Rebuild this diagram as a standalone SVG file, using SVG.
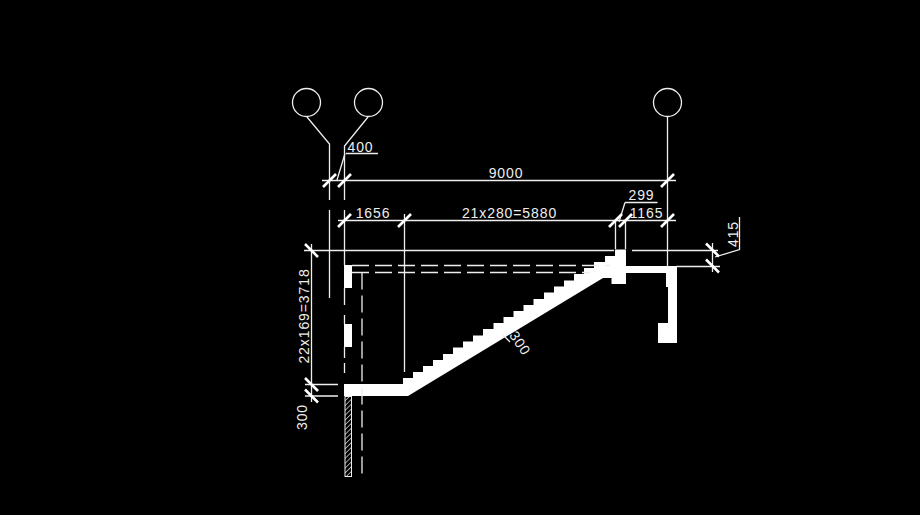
<svg xmlns="http://www.w3.org/2000/svg" width="920" height="515" viewBox="0 0 920 515">
<style>
.l{stroke:#eee;stroke-width:1.3;fill:none}
.d{stroke:#eee;stroke-width:1.3;fill:none;stroke-dasharray:17 6}
.t{stroke:#fff;stroke-width:2.6;fill:none}
.s{fill:#fff;stroke:none}
text{font-family:"Liberation Sans",Arial,sans-serif;font-size:14px;fill:#eee;letter-spacing:.9px;text-anchor:middle}
</style>
<defs>
<pattern id="h" width="3.4" height="3.4" patternUnits="userSpaceOnUse" patternTransform="rotate(45)">
<line x1="0" y1="0" x2="0" y2="3.4" stroke="#ddd" stroke-width="1.4"/>
</pattern>
<path id="tk" d="M-6.500 6.500L6.500-6.500" class="t"/>
</defs>
<rect width="920" height="515" fill="#000"/>
<g id="grid-a"><circle cx="306.500" cy="102.500" r="14" class="l"/><path d="M307 117L329.500 144V200M329.500 210V298" class="l"/></g>
<g id="grid-b"><circle cx="368.500" cy="102.500" r="14" class="l"/><path d="M368 117L344.500 146V200M344.500 210V265" class="l"/><path d="M344.500 288V305M344.500 315V324M344.500 347V358M344.500 363V373" class="l"/></g>
<g id="grid-c"><circle cx="667.500" cy="102.500" r="14" class="l"/><path d="M667.500 117V266" class="l"/></g>
<g id="structure">
<path class="s" d="M344 384H403V378H413V372H423V366H433V360H443V354H453V347.500H463V341.500H473V335.500H483V329H493.500V323H503.500V317H513.500V311H523.500V305H533.500V299H544V292.500H554V286.500H564V280.500H574V274H584V268H594V262H605V256H615V249.500H626V266H677V343H658V323H668V287H666V273H626V284H611.500V278H603L408 396H344Z"/>
<rect class="s" x="344" y="265" width="8" height="23"/>
<rect class="s" x="344" y="324" width="8" height="23"/>
<rect x="345" y="396.500" width="6.500" height="80" fill="url(#h)" stroke="#eee" stroke-width="1"/>
<path class="d" d="M352 265.500H610M352 272.500H590"/>
<path class="d" d="M362 272.500V477"/>
<line x1="503" y1="335" x2="510" y2="342" class="l"/>
</g>
<g id="dimensions">
<path class="l" d="M322 180.500H676M338 220.500H676M304 250.500H614M632 250.500H718M676 266.500H720M311.500 244V402M305 384.500H338M305 396H338M404.500 214V372M615.500 222V249M625.500 222V249M712.500 243V272"/>
<path class="l" d="M346 153.500H378M345 153.500L337 180M625 202.500H657.500M625 202.500L619 222M739.500 217V249.500L715 257"/>
<use href="#tk" x="329.500" y="180.500"/><use href="#tk" x="344.500" y="180.500"/><use href="#tk" x="667.500" y="180.500"/>
<use href="#tk" x="344.500" y="220.500"/><use href="#tk" x="404.500" y="220.500"/><use href="#tk" x="615.500" y="220.500"/><use href="#tk" x="625.500" y="220.500"/><use href="#tk" x="667.500" y="220.500"/>
<path class="t" d="M305 244L318 257M305 378L318 391M305 389.500L318 402.500M706 243.500L719 256.500M706 259.500L719 272.500"/>
<text x="360.500" y="151.500">400</text>
<text x="506" y="178">9000</text>
<text x="373" y="218">1656</text>
<text x="509.500" y="218">21x280=5880</text>
<text x="641.500" y="200">299</text>
<text x="646.500" y="218">1165</text>
<text transform="translate(738 234) rotate(-90)">415</text>
<text transform="translate(309 316) rotate(-90)">22x169=3718</text>
<text transform="translate(307 417) rotate(-90)">300</text>
<text transform="translate(516 346) rotate(56)">300</text>
</g>
</svg>
